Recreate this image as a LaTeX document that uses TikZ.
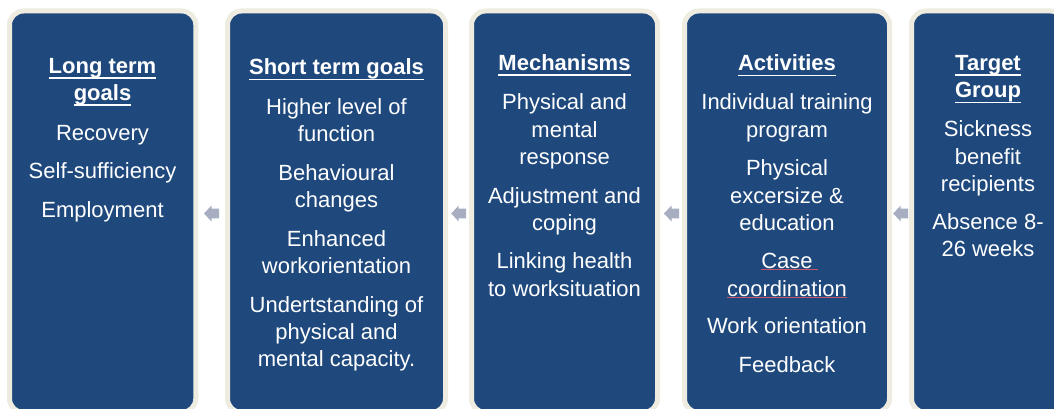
\documentclass[tikz,border=0pt]{standalone}
\usepackage{fontspec}
\setmainfont{Liberation Sans}
\usetikzlibrary{calc}
\definecolor{navy}{HTML}{1F497D}
\definecolor{cream}{HTML}{EEECE1}
\definecolor{arrowgray}{HTML}{A8AEC1}
\definecolor{spell}{HTML}{C4566E}
\newcommand\hdrul[1]{\setbox0\hbox{\bfseries #1}\rlap{\color{white}\vrule height -3.7pt depth 5.4pt width \wd0}\box0}
\begin{document}
\begin{tikzpicture}[x=1pt,y=-1pt,
  box/.style={fill=navy, draw=cream, line width=5pt, rounded corners=14pt, inner sep=0pt},
  ln/.style={anchor=base, inner sep=0pt, text=white, font=\fontsize{22}{26}\selectfont},
  hd/.style={anchor=base, inner sep=0pt, text=white, font=\fontsize{22}{26}\selectfont\bfseries},
  larrow/.pic={\fill[arrowgray] (-7.5,0) -- (0,-8) -- (0,-4.8) -- (7.5,-4.8) -- (7.5,4.8) -- (0,4.8) -- (0,8) -- cycle;},
  spellline/.style={draw=spell, line width=0.7pt}]
\useasboundingbox (0,0) rectangle (1054,409);
\clip (0,0) rectangle (1054,409);

% boxes
\node[box, minimum width=186.3pt, minimum height=401.5pt] (b1) at (102.65,211.75) {};
\node[box, minimum width=218pt, minimum height=401.5pt] (b2) at (336.5,211.75) {};
\node[box, minimum width=186pt, minimum height=401.5pt] (b3) at (564.5,211.75) {};
\node[box, minimum width=205pt, minimum height=401.5pt] (b4) at (787,211.75) {};
\node[box, minimum width=153pt, minimum height=401.5pt] (b5) at (988,211.75) {};

% arrows
\pic at (211.5,213.5) {larrow};
\pic at (458.7,213.5) {larrow};
\pic at (671.5,213.5) {larrow};
\pic at (900.7,213.5) {larrow};

% box 1
\node[hd] (b1h1) at (102.5,73.3) {\hdrul{Long term}};
\node[hd] (b1h2) at (102.5,100.5) {\hdrul{goals}};
\node[ln] (b1a) at (102.5,140) {Recovery};
\node[ln] (b1b) at (102.5,178.5) {Self-sufficiency};
\node[ln] (b1c) at (102.5,217) {Employment};

% box 2
\node[hd] (b2h) at (336.5,75) {\hdrul{Short term goals}};
\node[ln] (b2a1) at (336.5,115) {Higher level of};
\node[ln] (b2a2) at (336.5,142) {function};
\node[ln] (b2b1) at (336.5,180.5) {Behavioural};
\node[ln] (b2b2) at (336.5,207.5) {changes};
\node[ln] (b2c1) at (336.5,246) {Enhanced};
\node[ln] (b2c2) at (336.5,273) {workorientation};
\node[ln] (b2d1) at (336.5,312) {Undertstanding of};
\node[ln] (b2d2) at (336.5,339) {physical and};
\node[ln] (b2d3) at (336.5,366) {mental capacity.};

% box 3
\node[hd] (b3h) at (564.5,70.5) {\hdrul{Mechanisms}};
\node[ln] (b3a1) at (564.5,110) {Physical and};
\node[ln] (b3a2) at (564.5,137) {mental};
\node[ln] (b3a3) at (564.5,164.5) {response};
\node[ln] (b3b1) at (564.5,203) {Adjustment and};
\node[ln] (b3b2) at (564.5,230) {coping};
\node[ln] (b3c1) at (564.5,268.5) {Linking health};
\node[ln] (b3c2) at (564.5,296) {to worksituation};

% box 4
\node[hd] (b4h) at (787,71) {\hdrul{Activities}};
\node[ln] (b4a1) at (787,110) {Individual training};
\node[ln] (b4a2) at (787,137) {program};
\node[ln] (b4b1) at (787,175) {Physical};
\node[ln] (b4b2) at (787,203) {excersize \&};
\node[ln] (b4b3) at (787,230) {education};
\node[ln] (b4c1) at (787,268.3) {Case};
\node[ln] (b4c2) at (787,296) {coordination};
\node[ln] (b4d) at (787,333.5) {Work orientation};
\node[ln] (b4e) at (787,372) {Feedback};
\draw[spellline] ($(b4c1.base west)+(0,1.4)$) -- ($(b4c1.base east)+(5.5,1.4)$);
\draw[spellline] ($(b4c2.base west)+(0,1.4)$) -- ($(b4c2.base east)+(0,1.4)$);

% box 5
\node[hd] (b5h1) at (988,70.5) {\hdrul{Target}};
\node[hd] (b5h2) at (988,98) {\hdrul{Group}};
\node[ln] (b5a1) at (988,136) {Sickness};
\node[ln] (b5a2) at (988,164) {benefit};
\node[ln] (b5a3) at (988,191) {recipients};
\node[ln] (b5b1) at (988,229) {Absence 8-};
\node[ln] (b5b2) at (988,256) {26 weeks};
\end{tikzpicture}
\end{document}
